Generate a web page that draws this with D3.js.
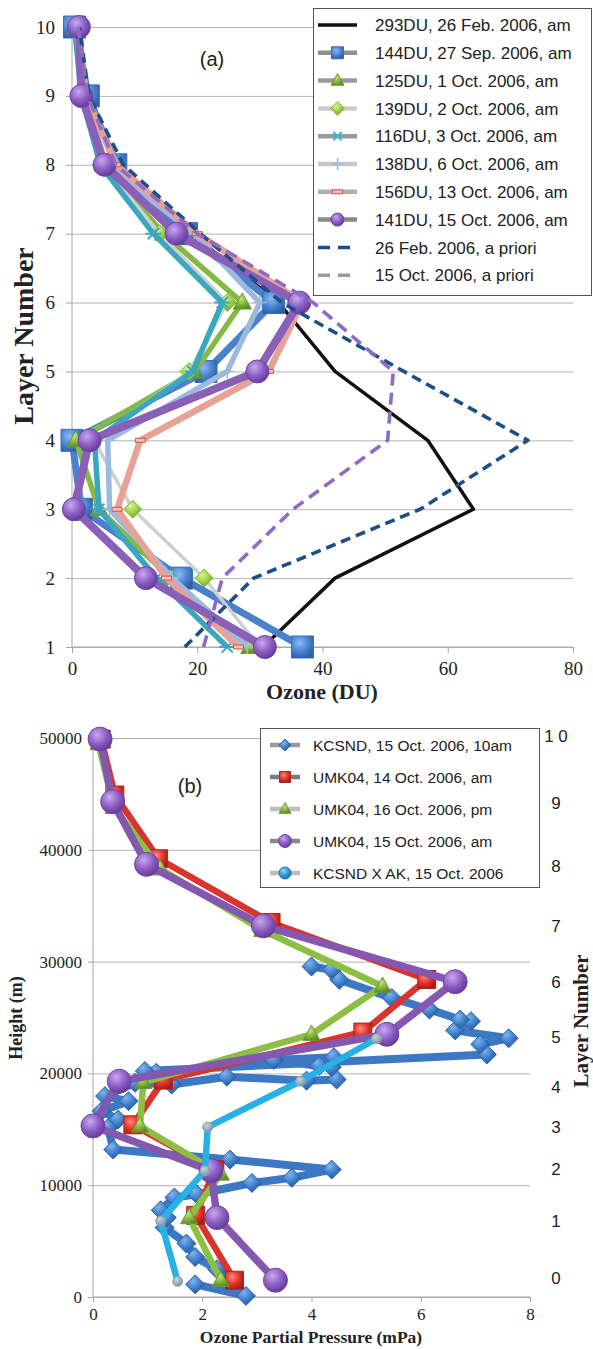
<!doctype html>
<html lang="en">
<head>
<meta charset="utf-8">
<title>Ozone profiles</title>
<style>
  body { margin: 0; background: #fff; }
  .tick text { font-family: "Liberation Serif", "Times New Roman", serif; fill: #222; }
  .legend text { font-family: "Liberation Sans", Arial, sans-serif; fill: #222; }
</style>
</head>
<body>
<div id="viz"></div>
<script src="https://d3js.org/d3.v7.min.js"></script>
<script>
// ---------- DATA : panel (a), ozone (DU) by layer ----------
var layers  = [1, 2, 3, 4, 5, 6, 7, 8, 9, 10];
var du293   = [30.5, 42, 64.1, 56.8, 42, 33, 19, 7, 2.5, 1];
var du144   = [36.8, 17.5, 1.5, 0, 21.4, 32.2, 18.3, 7, 2.6, 0.4];
var du125   = [28.4, 15.7, 4.3, 0.6, 19.6, 27.2, 14.6, 5, 2, 0.6];
var du139   = [30, 21.1, 9.7, 3.5, 18.7, 24.8, 14, 5, 2, 0.6];
var du116   = [24.8, 13.5, 4.3, 3.6, 19.3, 24, 13, 4.5, 1.5, 0.4];
var du138   = [28, 16, 6, 5.7, 24.8, 30, 19.5, 5.5, 2, 0.6];
var du156   = [26.6, 15.1, 7.2, 10.9, 31.4, 36.8, 20, 7, 2.3, 0.8];
var du141   = [30.8, 11.8, 0.3, 2.8, 29.6, 36.3, 16.7, 5.2, 1.5, 1.1];
var apriFeb = [18, 29, 55.6, 72.8, 53, 33.5, 20.5, 8.2, 2.7, 1.2];
var apriOct = [21, 24, 35.3, 50.4, 51.3, 38.5, 20, 7, 2.5, 1];

var duTicks = [0, 20, 40, 60, 80];

// ---------- DATA : panel (b), partial pressure (mPa) vs height (m) ----------
var kcsndPP = [1.87, 2.8, 2.27, 1.87, 1.71, 1.31, 1.35, 1.24, 1.49, 1.9, 2.91, 3.64, 4.37, 2.51, 0.37,
               0.28, 0.46, 0.16, 0.65, 0.22, 0.77, 1.44, 2.45, 3.91, 4.46, 4.37, 4.14, 3.31, 4.41, 1.16,
               0.95, 7.21, 7.09, 7.61, 6.63, 6.92, 6.72, 6.16, 5.47, 4.51, 4.37, 4.0];
var kcsndH  = [1130, 100, 2480, 3580, 4780, 6210, 7100, 7760, 8900, 9190, 10200, 10660, 11400, 12300, 13190,
               15130, 15880, 16630, 17520, 17970, 19160, 19010, 19700, 19350, 19450, 20550, 20670, 21200, 21450, 20060,
               20210, 21700, 22600, 23140, 23850, 24670, 24820, 25710, 26750, 28370, 29260, 29560];
var umk14PP = [2.59, 1.88, 2.23, 0.73, 1.29, 4.94, 6.11, 3.26, 1.2, 0.4, 0.15];
var umk14H  = [1500, 7300, 11400, 15400, 19400, 23700, 28400, 33500, 39200, 44900, 49900];
var umk16PP = [2.34, 1.76, 2.34, 0.86, 0.92, 4.0, 5.3, 3.1, 1.23, 0.38, 0.1];
var umk16H  = [1500, 7100, 11000, 15300, 19200, 23500, 27800, 32800, 38300, 43800, 49500];
var umk15PP = [3.34, 2.27, 2.16, 0.0, 0.48, 5.38, 6.63, 3.12, 0.98, 0.36, 0.13];
var umk15H  = [1500, 7100, 11300, 15300, 19300, 23500, 28200, 33200, 38700, 44300, 49900];
var akPP    = [1.55, 1.24, 2.05, 2.1, 3.8, 5.19];
var akH     = [1400, 6800, 11300, 15200, 19300, 23100];

var ppTicks = [0, 2, 4, 6, 8];
var hTicks  = [0, 10000, 20000, 30000, 40000, 50000];
var layerLabels  = ["0", "1", "2", "3", "4", "5", "6", "7", "8", "9", "1 0"];
var layerLabelsH = [1700, 6800, 11500, 15200, 18800, 23300, 28200, 33200, 38600, 44200, 50200];

// ---------- DRAWING AREA ----------
var W = 593, H = 1349;
var svg = d3.select("#viz").append("svg")
  .attr("width", W).attr("height", H)
  .style("display", "block");
svg.append("rect").attr("width", W).attr("height", H).attr("fill", "#fff");

var defs = svg.append("defs");
function radial(id, c0, c1, c2) {
  var g = defs.append("radialGradient").attr("id", id)
    .attr("cx", "38%").attr("cy", "32%").attr("r", "70%");
  g.append("stop").attr("offset", "0%").attr("stop-color", c0);
  g.append("stop").attr("offset", "55%").attr("stop-color", c1);
  g.append("stop").attr("offset", "100%").attr("stop-color", c2);
}
radial("gPurple", "#c9a9ee", "#8d5fc6", "#63389a");
radial("gBlue", "#8cbcf2", "#4a86d2", "#2c5fa8");
radial("gGreen", "#c4e67c", "#86b83c", "#5d8a22");
radial("gLGreen", "#d6f59a", "#9ed046", "#74a72c");
radial("gRed", "#ff8a7a", "#e2352c", "#a81c16");
radial("gDia", "#7fb4ee", "#3f7fcc", "#275a9e");
radial("gCyan", "#c4d3dc", "#9fb2bf", "#7b8f9c");
radial("gCyanL", "#8fd4f5", "#2c9fd9", "#1a73a8");

// marker paths
function diamond(r) { return "M0," + (-r) + "L" + r + ",0L0," + r + "L" + (-r) + ",0Z"; }
function square(s) { return "M" + (-s/2) + "," + (-s/2) + "h" + s + "v" + s + "h" + (-s) + "Z"; }
function triangle(s) {
  var h = s * 0.9;
  return "M0," + (-h*0.6) + "L" + (s/2) + "," + (h*0.4) + "L" + (-s/2) + "," + (h*0.4) + "Z";
}
function circle(r) { return d3.symbol().type(d3.symbolCircle).size(Math.PI * r * r)(); }
function asterisk(r) {
  var a = r * 0.7;
  return "M" + (-r) + ",0H" + r + "M" + (-a) + "," + (-a) + "L" + a + "," + a + "M" + (-a) + "," + a + "L" + a + "," + (-a);
}
function plus(r) { return "M" + (-r) + ",0H" + r + "M0," + (-r) + "V" + r; }
function dash(r) { return "M" + (-r) + ",-2h" + (2*r) + "v4h" + (-2*r) + "Z"; }

function drawSeries(g, xs, ys, xv, yv, o) {
  var pts = xv.map(function(v, i) { return [xs(v), ys(yv[i])]; });
  g.append("path")
    .attr("d", d3.line()(pts))
    .attr("fill", "none")
    .attr("stroke", o.color)
    .attr("stroke-width", o.width)
    .attr("stroke-linejoin", "round")
    .attr("stroke-dasharray", o.dash || null);
  if (o.marker) {
    g.selectAll(null).data(pts).enter().append("path")
      .attr("transform", function(d) { return "translate(" + d[0] + "," + d[1] + ")"; })
      .attr("d", o.marker)
      .attr("fill", o.fill || "none")
      .attr("stroke", o.mstroke || "none")
      .attr("stroke-width", o.mwidth || 1);
  }
}

// ================= PANEL (a) =================
var xa = d3.scaleLinear().domain([0, 80]).range([72, 573]);
var ya = d3.scaleLinear().domain([1, 10]).range([647, 27]);
var ga = svg.append("g");

ga.append("g").attr("transform", "translate(72,0)")
  .call(d3.axisLeft(ya).tickValues(layers).tickSize(-(573 - 72)).tickFormat(""))
  .call(function(s) { s.select(".domain").remove(); s.selectAll("line").attr("stroke", "#b3b3b3"); });

ga.append("g").attr("transform", "translate(0,647)")
  .call(d3.axisBottom(xa).tickValues(duTicks).tickSize(6).tickPadding(8.5))
  .call(function(s) {
    s.select(".domain").attr("stroke", "#a6a6a6").attr("d", "M72,0H573");
    s.selectAll("line").attr("stroke", "#a6a6a6");
    s.selectAll("text").style("font-size", "19px");
  });
ga.append("g").attr("transform", "translate(72,0)")
  .call(d3.axisLeft(ya).tickValues(layers).tickSize(6).tickPadding(11))
  .call(function(s) {
    s.select(".domain").attr("stroke", "#a6a6a6").attr("d", "M0,647V27");
    s.selectAll("line").attr("stroke", "#a6a6a6");
    s.selectAll("text").style("font-size", "19px");
  });

var A = [
  {name: "293DU, 26 Feb. 2006, am", v: du293, color: "#111", width: 3.5, leg: "#111"},
  {name: "144DU, 27 Sep. 2006, am", v: du144, color: "#4a80cc", width: 7, marker: square(22), fill: "url(#gBlue)", mstroke: "#3a6fb8", leg: "#8f8f8f", lm: square(12)},
  {name: "125DU, 1 Oct. 2006, am", v: du125, color: "#86b845", width: 5.5, marker: triangle(18), fill: "url(#gGreen)", mstroke: "#6a9a30", leg: "#9a9a9a", lm: triangle(13)},
  {name: "139DU, 2 Oct. 2006, am", v: du139, color: "#cfcfcf", width: 3.5, marker: diamond(9), fill: "url(#gLGreen)", mstroke: "#88bb3a", leg: "#cccccc", lm: diamond(7)},
  {name: "116DU, 3 Oct. 2006, am", v: du116, color: "#3ba7bf", width: 5.5, marker: asterisk(8), mstroke: "#3ba7bf", mwidth: 2, leg: "#9a9a9a", lm: asterisk(6), lstroke: "#4bb0c8"},
  {name: "138DU, 6 Oct. 2006, am", v: du138, color: "#9cbadf", width: 5.5, marker: plus(7), mstroke: "#9cbadf", mwidth: 1.5, leg: "#c8c8c8", lm: plus(6), lstroke: "#9cbadf"},
  {name: "156DU, 13 Oct. 2006, am", v: du156, color: "#e8a196", width: 6.5, marker: dash(5), fill: "#f2c0b8", mstroke: "#c9574c", leg: "#b0b0b0", lm: dash(5)},
  {name: "141DU, 15 Oct. 2006, am", v: du141, color: "#8a5fb8", width: 8, marker: circle(11.5), fill: "url(#gPurple)", mstroke: "#6f47a0", leg: "#8a8a8a", lm: circle(6.5)},
  {name: "26 Feb. 2006, a priori", v: apriFeb, color: "#1d4f86", width: 3.6, dash: "10,6", leg: "#1d4f86"},
  {name: "15 Oct. 2006, a priori", v: apriOct, color: "#8e6cc2", width: 3.6, dash: "12,7", leg: "#9a9a9a"}
];

A.forEach(function(s) {
  drawSeries(ga, xa, ya, s.v, layers, {color: s.color, width: s.width, dash: s.dash,
    marker: s.marker, fill: s.fill, mstroke: s.mstroke, mwidth: s.mwidth});
});

ga.append("text").attr("x", 212).attr("y", 66).attr("text-anchor", "middle")
  .style("font", "20px 'Liberation Sans', Arial, sans-serif").style("fill", "#222").text("(a)");

ga.append("text").attr("x", 322).attr("y", 699).attr("text-anchor", "middle")
  .style("font", "bold 22px 'Liberation Serif', 'Times New Roman', serif").style("fill", "#222")
  .text("Ozone (DU)");
ga.append("text").attr("transform", "translate(33,336) rotate(-90)").attr("text-anchor", "middle")
  .style("font", "bold 28px 'Liberation Serif', 'Times New Roman', serif").style("fill", "#222")
  .text("Layer Number");

// legend (a)
var la = ga.append("g").attr("class", "legend");
la.append("rect").attr("x", 313.5).attr("y", 8.5).attr("width", 278).attr("height", 287)
  .attr("fill", "#fff").attr("stroke", "#555").attr("stroke-width", 1);
A.forEach(function(s, i) {
  var y = 25 + i * 27.8;
  la.append("line").attr("x1", 318).attr("x2", 357).attr("y1", y).attr("y2", y)
    .attr("stroke", s.leg).attr("stroke-width", s.dash ? 3.5 : (i === 0 ? 3.5 : 4.5))
    .attr("stroke-dasharray", s.dash ? "12,8" : null);
  if (s.lm) {
    la.append("path").attr("transform", "translate(337.5," + y + ")").attr("d", s.lm)
      .attr("fill", s.fill || "none").attr("stroke", s.lstroke || s.mstroke).attr("stroke-width", s.mwidth || 1);
  }
  la.append("text").attr("x", 375).attr("y", y).attr("dy", "0.36em")
    .style("font-size", "17px").text(s.name);
});

// ================= PANEL (b) =================
var xb = d3.scaleLinear().domain([0, 8]).range([93, 530]);
var yb = d3.scaleLinear().domain([0, 50000]).range([1297, 738]);
var gb = svg.append("g");

gb.append("g").attr("transform", "translate(93,0)")
  .call(d3.axisLeft(yb).tickValues(hTicks).tickSize(-(530 - 93)).tickFormat(""))
  .call(function(s) { s.select(".domain").remove(); s.selectAll("line").attr("stroke", "#b3b3b3"); });

gb.append("g").attr("transform", "translate(0,1297)")
  .call(d3.axisBottom(xb).tickValues(ppTicks).tickSize(5).tickPadding(6))
  .call(function(s) {
    s.select(".domain").attr("stroke", "#a6a6a6").attr("d", "M93,0H530");
    s.selectAll("line").attr("stroke", "#a6a6a6");
    s.selectAll("text").style("font-size", "17px");
  });
gb.append("g").attr("transform", "translate(93,0)")
  .call(d3.axisLeft(yb).tickValues(hTicks).tickSize(5).tickPadding(6).tickFormat(d3.format("d")))
  .call(function(s) {
    s.select(".domain").attr("stroke", "#a6a6a6").attr("d", "M0,1297V738");
    s.selectAll("line").attr("stroke", "#a6a6a6");
    s.selectAll("text").style("font-size", "17px");
  });

var B = [
  {name: "KCSND, 15 Oct. 2006, 10am", x: kcsndPP, y: kcsndH, color: "#3c78c4", width: 8, marker: diamond(9.5), fill: "url(#gDia)", mstroke: "#2f64a8", leg: "#9a9a9a", lm: diamond(6)},
  {name: "UMK04, 14 Oct. 2006, am", x: umk14PP, y: umk14H, color: "#d9342d", width: 6.5, marker: square(18), fill: "url(#gRed)", mstroke: "#b02620", leg: "#7a7a7a", lm: square(11)},
  {name: "UMK04, 16 Oct. 2006, pm", x: umk16PP, y: umk16H, color: "#8cbf43", width: 6.5, marker: triangle(17), fill: "url(#gGreen)", mstroke: "#6a9a30", leg: "#bdbdbd", lm: triangle(12)},
  {name: "UMK04, 15 Oct. 2006, am", x: umk15PP, y: umk15H, color: "#8558b0", width: 7.5, marker: circle(12), fill: "url(#gPurple)", mstroke: "#6f47a0", leg: "#8a8a8a", lm: circle(6.5)},
  {name: "KCSND X AK, 15 Oct. 2006", x: akPP, y: akH, color: "#27b2e6", width: 6.5, marker: circle(5), fill: "url(#gCyan)", mstroke: "#8fa3b0", leg: "#bdbdbd", lm: circle(6), lfill: "url(#gCyanL)", lstroke: "#1a73a8"}
];

B.forEach(function(s) {
  drawSeries(gb, xb, yb, s.x, s.y, {color: s.color, width: s.width,
    marker: s.marker, fill: s.fill, mstroke: s.mstroke});
});

// layer numbers on the right
gb.selectAll(null).data(layerLabels).enter().append("text")
  .attr("x", 556).attr("y", function(d, i) { return yb(layerLabelsH[i]); }).attr("dy", "0.36em")
  .attr("text-anchor", "middle")
  .style("font", "17px 'Liberation Sans', Arial, sans-serif").style("fill", "#222")
  .text(function(d) { return d; });

gb.append("text").attr("x", 190).attr("y", 793).attr("text-anchor", "middle")
  .style("font", "20px 'Liberation Sans', Arial, sans-serif").style("fill", "#222").text("(b)");

gb.append("text").attr("x", 311).attr("y", 1343).attr("text-anchor", "middle")
  .style("font", "bold 17.5px 'Liberation Serif', 'Times New Roman', serif").style("fill", "#222")
  .text("Ozone Partial Pressure (mPa)");
gb.append("text").attr("transform", "translate(22,1018) rotate(-90)").attr("text-anchor", "middle")
  .style("font", "bold 18px 'Liberation Serif', 'Times New Roman', serif").style("fill", "#222")
  .text("Height (m)");
gb.append("text").attr("transform", "translate(588,1021) rotate(-90)").attr("text-anchor", "middle")
  .style("font", "bold 21px 'Liberation Serif', 'Times New Roman', serif").style("fill", "#222")
  .text("Layer Number");

// legend (b)
var lb = gb.append("g").attr("class", "legend");
lb.append("rect").attr("x", 260.5).attr("y", 728.5).attr("width", 279).attr("height", 159)
  .attr("fill", "#fff").attr("stroke", "#555").attr("stroke-width", 1);
B.forEach(function(s, i) {
  var y = 745 + i * 32;
  lb.append("line").attr("x1", 270).attr("x2", 300).attr("y1", y).attr("y2", y)
    .attr("stroke", s.leg).attr("stroke-width", 4.5);
  lb.append("path").attr("transform", "translate(285," + y + ")").attr("d", s.lm)
    .attr("fill", s.lfill || s.fill).attr("stroke", s.lstroke || s.mstroke).attr("stroke-width", 1);
  lb.append("text").attr("x", 313).attr("y", y).attr("dy", "0.36em")
    .style("font-size", "15.5px").text(s.name);
});
</script>
</body>
</html>
